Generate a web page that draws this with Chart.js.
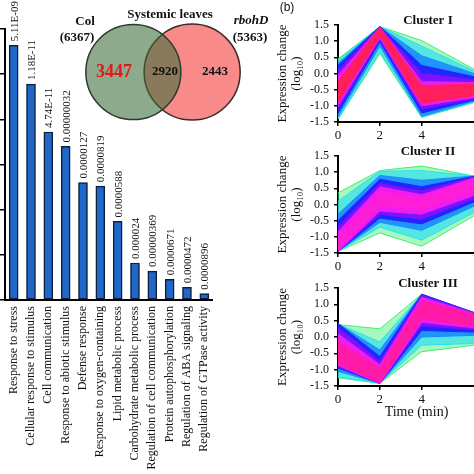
<!DOCTYPE html>
<html>
<head>
<meta charset="utf-8">
<script src="https://cdn.jsdelivr.net/npm/chart.js@4.4.1/dist/chart.umd.min.js"></script>
<style>
  html, body { margin: 0; padding: 0; background: #fff; overflow: hidden; }
  body { width: 474px; height: 474px; position: relative; font-family: 'Liberation Serif', serif; color: #111; }
  canvas { position: absolute; }
  .lbl { position: absolute; white-space: nowrap; transform: translate(-50%, -50%); font-weight: bold; font-size: 13px; }
</style>
</head>
<body>
<canvas id="goBar" width="225" height="474" style="left:0;top:0"></canvas>
<!-- bubble charts pad the chart area by the largest radius, so this canvas is bigger than the drawn Venn -->
<canvas id="venn" width="290" height="230" style="left:20px;top:-50px"></canvas>
<canvas id="cluster1" width="204" height="128" style="left:270px;top:14px"></canvas>
<canvas id="cluster2" width="204" height="128" style="left:270px;top:145px"></canvas>
<canvas id="cluster3" width="204" height="147" style="left:270px;top:277px"></canvas>

<div class="lbl" style="left:170px;top:14px">Systemic leaves</div>
<div class="lbl" id="colName" style="left:85px;top:21px"></div>
<div class="lbl" id="colTotal" style="left:77px;top:37px"></div>
<div class="lbl" id="rbohName" style="left:251px;top:20px;font-style:italic"></div>
<div class="lbl" id="rbohTotal" style="left:250px;top:37px"></div>
<div class="lbl" style="left:287px;top:7px;font-family:'Liberation Sans',sans-serif;font-weight:normal;font-size:12px">(b)</div>

<script>
// (a) GO enrichment bars
const goTerms = [
  'Response to stress', 'Cellular response to stimulus', 'Cell communication',
  'Response to abiotic stimulus', 'Defense response', 'Response to oxygen-containing',
  'Lipid metabolic process', 'Carbohydrate metabolic process', 'Regulation of cell communication',
  'Protein autophosphorylation', 'Regulation of ABA signaling', 'Regulation of GTPase activity'
];
const goValues = [282, 239, 186, 170, 130, 126, 87, 41, 32, 23, 14, 7];
const goPValues = [
  '5.11E-09', '1.18E-11', '4.74E-11', '0.00000032', '0.0000127', '0.0000819',
  '0.0000588', '0.000024', '0.00000369', '0.0000671', '0.0000472', '0.0000896'
];

// Venn
const vennSets = ['Col', 'rbohD'];
const vennTotals = [6367, 5363];
const vennCounts = [3447, 2920, 2443]; // Col only, shared, rbohD only

// (b) clusters: envelope of each membership layer, outer (green) to core
const times = [0, 2, 4, 6.5];
const c1Upper = [
  [0.45, 1.45, 1.02, 0.13],
  [0.42, 1.45, 0.85, 0.08],
  [0.32, 1.45, 0.55, 0.0],
  [0.25, 1.45, 0.25, -0.1],
  [0.1, 1.44, 0.0, -0.2],
  [-0.05, 1.43, -0.25, -0.28],
  [-0.25, 1.42, -0.38, -0.33]
];
const c1Lower = [
  [-1.42, 0.62, -1.36, -0.9],
  [-1.4, 0.68, -1.34, -0.88],
  [-1.33, 0.85, -1.32, -0.86],
  [-1.22, 0.98, -1.22, -0.82],
  [-1.1, 1.05, -1.1, -0.78],
  [-1.0, 1.1, -1.0, -0.74],
  [-0.88, 1.15, -0.92, -0.68]
];
const c2Upper = [
  [0.36, 1.05, 1.19, 0.88],
  [0.1, 1.03, 1.05, 0.88],
  [-0.3, 0.9, 0.75, 0.88],
  [-0.5, 0.78, 0.55, 0.87],
  [-0.7, 0.65, 0.42, 0.85],
  [-0.85, 0.55, 0.3, 0.82],
  [-1.0, 0.4, 0.2, 0.78]
];
const c2Lower = [
  [-1.45, -0.88, -1.29, -0.35],
  [-1.45, -0.7, -1.1, -0.25],
  [-1.45, -0.55, -0.8, -0.05],
  [-1.45, -0.42, -0.6, 0.08],
  [-1.45, -0.3, -0.45, 0.18],
  [-1.45, -0.2, -0.3, 0.28],
  [-1.42, -0.05, -0.15, 0.38]
];
const c3Upper = [
  [0.38, 0.25, 1.31, 0.72],
  [0.4, -0.15, 1.31, 0.73],
  [0.41, -0.4, 1.31, 0.75],
  [0.41, -0.6, 1.31, 0.75],
  [0.3, -0.75, 1.28, 0.74],
  [0.1, -0.85, 1.22, 0.72],
  [-0.15, -0.95, 1.1, 0.7]
];
const c3Lower = [
  [-1.25, -1.42, -0.45, -0.25],
  [-1.22, -1.42, -0.25, -0.2],
  [-1.05, -1.42, 0.0, 0.05],
  [-0.95, -1.42, 0.2, 0.15],
  [-0.9, -1.42, 0.35, 0.22],
  [-0.87, -1.42, 0.45, 0.28],
  [-0.82, -1.4, 0.55, 0.33]
];
const xTickLabels = [0, 2, 4];
const yTicks = { min: -1.5, max: 1.5, step: 0.5 };

Chart.defaults.font.family = "'Liberation Serif', serif";
Chart.defaults.color = '#111';
Chart.defaults.animation = false;

const SERIF = "'Liberation Serif', serif";

// --- bar chart ---
const barValueLabels = {
  id: 'barValueLabels',
  afterDatasetsDraw(chart) {
    const ctx = chart.ctx;
    ctx.save();
    ctx.font = '11px ' + SERIF;
    ctx.fillStyle = '#111';
    ctx.textAlign = 'left';
    ctx.textBaseline = 'middle';
    chart.getDatasetMeta(0).data.forEach((bar, i) => {
      ctx.save();
      ctx.translate(bar.x + 1, bar.y - 4);
      ctx.rotate(-Math.PI / 2);
      ctx.fillText(goPValues[i], 0, 0);
      ctx.restore();
    });
    ctx.restore();
  }
};

new Chart(document.getElementById('goBar'), {
  type: 'bar',
  data: {
    labels: goTerms,
    datasets: [{
      data: goValues,
      backgroundColor: '#1f68c9',
      borderColor: '#0d1f3c',
      borderWidth: 1.5,
      borderSkipped: false,
      barThickness: 9
    }]
  },
  options: {
    responsive: false,
    layout: { padding: { top: 29, right: 7, left: 0, bottom: 0 } },
    plugins: { legend: { display: false }, tooltip: { enabled: false } },
    scales: {
      x: {
        border: { color: '#000', width: 2 },
        grid: { display: false, drawTicks: false },
        ticks: { autoSkip: false, minRotation: 90, maxRotation: 90, padding: 6, color: '#111', font: { size: 12 } },
        afterFit: s => { s.height = 174; }
      },
      y: {
        min: 0, max: 300,
        border: { color: '#000', width: 2 },
        grid: { drawOnChartArea: false, tickLength: 5, tickColor: '#000', lineWidth: 1.5 },
        ticks: { stepSize: 50, display: false },
        afterFit: s => { s.width = 5; }
      }
    }
  },
  plugins: [barValueLabels]
});

// --- Venn ---
document.getElementById('colName').textContent = vennSets[0];
document.getElementById('colTotal').textContent = '(' + vennTotals[0] + ')';
document.getElementById('rbohName').textContent = vennSets[1];
document.getElementById('rbohTotal').textContent = '(' + vennTotals[1] + ')';

const vennLabels = {
  id: 'vennLabels',
  afterDatasetsDraw(chart) {
    const { ctx, scales: { x, y } } = chart;
    const spots = [-0.33, 0.54, 1.39];
    const styles = [
      { font: 'bold 18px ' + SERIF, color: '#e01a1a' },
      { font: 'bold 13px ' + SERIF, color: '#111' },
      { font: 'bold 13px ' + SERIF, color: '#111' }
    ];
    ctx.save();
    ctx.textAlign = 'center';
    ctx.textBaseline = 'middle';
    vennCounts.forEach((n, i) => {
      ctx.font = styles[i].font;
      ctx.fillStyle = styles[i].color;
      ctx.fillText(String(n), x.getPixelForValue(spots[i]), y.getPixelForValue(0));
    });
    ctx.restore();
  }
};

new Chart(document.getElementById('venn'), {
  type: 'bubble',
  data: {
    datasets: [
      { data: [{ x: 0, y: 0, r: 47.5 }], backgroundColor: 'rgba(58,108,57,0.58)', borderColor: '#2c3a2c', borderWidth: 1.5 },
      { data: [{ x: 1, y: 0, r: 48 }], backgroundColor: '#f98a8a', borderColor: '#3a2a2a', borderWidth: 1.5 }
    ]
  },
  options: {
    responsive: false,
    layout: { padding: 0 },
    plugins: { legend: { display: false }, tooltip: { enabled: false } },
    scales: {
      x: { display: false, min: -1.085, max: 2.162 },
      y: { display: false, min: -0.991, max: 1.231 }
    }
  },
  plugins: [vennLabels]
});

// --- cluster line charts ---
const layerColors = ['#40f070', '#2fdfee', '#1a8cff', '#2424ff', '#7a14ff', '#ee1cee'];
const layerAlpha = [0.45, 0.7, 0.9, 1, 1, 1, 1];

function rgba(hex, a) {
  const n = parseInt(hex.slice(1), 16);
  return `rgba(${n >> 16},${(n >> 8) & 255},${n & 255},${a})`;
}
function toPts(arr) {
  return times.map((t, i) => ({ x: t, y: arr[i] }));
}

const clusterText = {
  id: 'clusterText',
  afterDraw(chart, args, opts) {
    const { ctx, chartArea, scales: { x } } = chart;
    ctx.save();
    ctx.fillStyle = '#111';
    ctx.textAlign = 'center';
    ctx.textBaseline = 'middle';
    ctx.font = 'bold 13px ' + SERIF;
    ctx.fillText(opts.title, x.getPixelForValue(4.3), chartArea.top - 4);
    if (opts.xTitle) {
      ctx.font = '14px ' + SERIF;
      ctx.fillText(opts.xTitle, x.getPixelForValue(3.75), chartArea.bottom + 26);
    }
    ctx.restore();
  }
};

function drawCluster(id, title, upper, lower, coreColor, xTitle, xHeight) {
  const datasets = [];
  upper.forEach((u, i) => {
    const color = i < layerColors.length ? layerColors[i] : coreColor;
    const order = upper.length - i;
    datasets.push({ data: toPts(lower[i]), borderColor: color, borderWidth: 1, fill: false, order });
    datasets.push({ data: toPts(u), borderColor: color, backgroundColor: rgba(color, layerAlpha[i]), borderWidth: 1, fill: '-1', order });
  });
  new Chart(document.getElementById(id), {
    type: 'line',
    data: { datasets },
    options: {
      responsive: false,
      layout: { padding: { top: 10, right: 0, left: 0, bottom: 0 } },
      elements: { point: { radius: 0 }, line: { tension: 0 } },
      plugins: { legend: { display: false }, tooltip: { enabled: false }, clusterText: { title, xTitle } },
      scales: {
        x: {
          type: 'linear', min: 0, max: 6.5,
          border: { color: '#000', width: 2 },
          grid: { drawOnChartArea: false, tickLength: 4, tickColor: '#000', lineWidth: 1.5 },
          ticks: { stepSize: 2, padding: 2, maxRotation: 0, color: '#111', font: { size: 13 } },
          afterBuildTicks: s => { s.ticks = s.ticks.filter(t => xTickLabels.includes(t.value)); },
          afterFit: s => { s.height = xHeight; }
        },
        y: {
          min: yTicks.min, max: yTicks.max,
          border: { color: '#000', width: 2 },
          grid: { drawOnChartArea: false, tickLength: 4, tickColor: '#000', lineWidth: 1.5 },
          ticks: { stepSize: yTicks.step, autoSkip: false, padding: 5, color: '#111', font: { size: 12, lineHeight: 1 }, callback: v => v.toFixed(1) },
          title: { display: true, text: ['Expression change', '(log\u2081\u2080)'], color: '#111', font: { size: 13, lineHeight: 1.05 }, padding: { top: 6, bottom: 0 } },
          afterFit: s => { s.width = 68; }
        }
      }
    },
    plugins: [clusterText]
  });
}

drawCluster('cluster1', 'Cluster I', c1Upper, c1Lower, '#ff1f5c', null, 20);
drawCluster('cluster2', 'Cluster II', c2Upper, c2Lower, '#ff1ed8', null, 20);
drawCluster('cluster3', 'Cluster III', c3Upper, c3Lower, '#ff1aa8', 'Time (min)', 38);
</script>
</body>
</html>
